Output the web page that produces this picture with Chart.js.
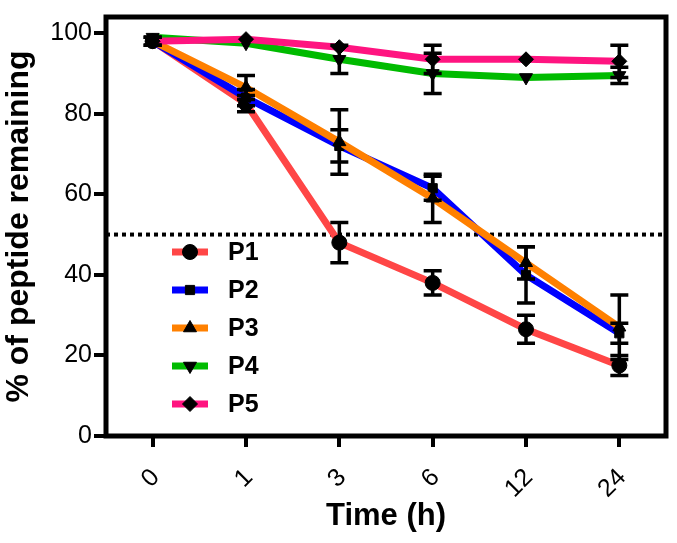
<!DOCTYPE html>
<html>
<head>
<meta charset="utf-8">
<script src="https://cdn.jsdelivr.net/npm/chart.js@4"></script>
<style>
  html, body { margin: 0; padding: 0; background: #fff; }
  #wrap { width: 677px; height: 543px; position: relative; }
</style>
</head>
<body>
<div id="wrap"><canvas id="myChart"></canvas></div>
<script>
// data
const times = ['0', '1', '3', '6', '12', '24'];
const seriesNames = ['P1', 'P2', 'P3', 'P4', 'P5'];
const p1 = [98, 82.5, 48, 38, 26.5, 17.5];
const p2 = [98, 84, 72, 61.5, 40, 25.5];
const p3 = [98, 86.5, 73, 59, 43, 27];
const p4 = [99, 97.5, 93.5, 90, 89, 89.5];
const p5 = [98, 98.5, 96.5, 93.5, 93.5, 93];
const p1Err = [1, 2, 5, 3, 3.5, 2.5];
const p2Err = [1, 2, 4, 3, 7, 2.5];
const p3Err = [1, 3, 8, 6, 4, 8];
const p4Err = [0.5, 0.5, 3.5, 5, 0.5, 2];
const p5Err = [0.5, 0.5, 0.5, 3.5, 0.5, 4];
const yTicks = [0, 20, 40, 60, 80, 100];
const halfLine = 50;

const colors = ['#ff4646', '#0000ff', '#ff8000', '#00bb00', '#ff1480'];
const markers = ['circle', 'rect', 'triangle', 'triangle', 'rectRot'];
const markerRot = [0, 0, 0, 180, 0];
const values = [p1, p2, p3, p4, p5];
const errors = [p1Err, p2Err, p3Err, p4Err, p5Err];
const FONT = '"Liberation Sans", Arial, sans-serif';

const datasets = seriesNames.map((name, i) => ({
  label: name,
  data: values[i],
  borderColor: colors[i],
  borderWidth: 7,
  pointStyle: markers[i],
  rotation: markerRot[i],
  pointRadius: i === 1 ? 6.5 : 7.5,
  pointBackgroundColor: '#000',
  pointBorderColor: '#000',
  pointBorderWidth: 1,
  fill: false,
  tension: 0,
  order: 5 - i,
  errs: errors[i]
}));

// error bars, dotted 50% line, frame and legend
const extras = {
  id: 'extras',
  beforeDatasetsDraw(chart) {
    const { ctx, chartArea: a, scales: { y } } = chart;
    ctx.save();
    ctx.strokeStyle = '#000';
    ctx.lineWidth = 4;
    ctx.setLineDash([4, 4]);
    const yy = y.getPixelForValue(halfLine);
    ctx.beginPath();
    ctx.moveTo(a.left, yy);
    ctx.lineTo(a.right, yy);
    ctx.stroke();
    ctx.restore();
  },
  afterDatasetsDraw(chart) {
    const { ctx, chartArea: a, scales: { x, y } } = chart;
    ctx.save();
    ctx.strokeStyle = '#000';
    ctx.lineWidth = 3.5;
    chart.data.datasets.forEach((ds) => {
      ds.data.forEach((v, j) => {
        const e = ds.errs[j];
        if (e < 1) return;
        const px = x.getPixelForValue(j);
        const top = y.getPixelForValue(v + e);
        const bot = y.getPixelForValue(v - e);
        ctx.beginPath();
        ctx.moveTo(px, top); ctx.lineTo(px, bot);
        ctx.moveTo(px - 9, top); ctx.lineTo(px + 9, top);
        ctx.moveTo(px - 9, bot); ctx.lineTo(px + 9, bot);
        ctx.stroke();
      });
    });

    // frame
    ctx.lineWidth = 5;
    ctx.strokeRect(a.left, a.top, a.right - a.left, a.bottom - a.top);

    // legend inside plot
    chart.data.datasets.forEach((ds, i) => {
      const ly = 252 + i * 38;
      ctx.strokeStyle = ds.borderColor;
      ctx.lineWidth = 7;
      ctx.beginPath();
      ctx.moveTo(172, ly); ctx.lineTo(208, ly);
      ctx.stroke();
      ctx.fillStyle = '#000';
      ctx.strokeStyle = '#000';
      ctx.lineWidth = 1;
      Chart.helpers.drawPoint(ctx, { pointStyle: ds.pointStyle, rotation: ds.rotation, radius: ds.pointRadius, borderWidth: 1 }, 190, ly);
      ctx.font = 'bold 25px ' + FONT;
      ctx.textBaseline = 'middle';
      ctx.textAlign = 'left';
      ctx.fillText(ds.label, 228, ly + 1);
    });
    ctx.restore();
  }
};

new Chart(document.getElementById('myChart').getContext('2d'), {
  type: 'line',
  data: { labels: times, datasets: datasets },
  plugins: [extras],
  options: {
    responsive: true,
    maintainAspectRatio: false,
    animation: false,
    layout: { padding: { top: 10, right: 11, left: 0, bottom: 0 } },
    plugins: {
      legend: { display: false },
      tooltip: { enabled: false }
    },
    scales: {
      x: {
        offset: true,
        afterFit: (s) => { s.height = 107; },
        border: { display: false },
        grid: { display: true, drawOnChartArea: false, drawTicks: true, tickLength: 11, lineWidth: 4, color: '#000', offset: false },
        ticks: { color: '#000', font: { family: FONT, size: 25 }, minRotation: 45, maxRotation: 45, padding: 16, labelOffset: 3 },
        title: { display: true, text: 'Time (h)', color: '#000', font: { family: FONT, size: 31, weight: 'bold' }, padding: { top: 0, bottom: 8 } }
      },
      y: {
        min: 0,
        max: 104,
        afterFit: (s) => { s.width = 106; },
        afterBuildTicks: (s) => { s.ticks = yTicks.map(v => ({ value: v })); },
        border: { display: false },
        grid: { display: true, drawOnChartArea: false, drawTicks: true, tickLength: 12, lineWidth: 4, color: '#000' },
        ticks: { color: '#000', font: { family: FONT, size: 25 }, padding: 2 },
        title: { display: true, text: '% of peptide remaining', color: '#000', font: { family: FONT, size: 32, weight: 'bold' }, padding: { top: 0, bottom: 0 } }
      }
    }
  }
});
</script>
</body>
</html>
